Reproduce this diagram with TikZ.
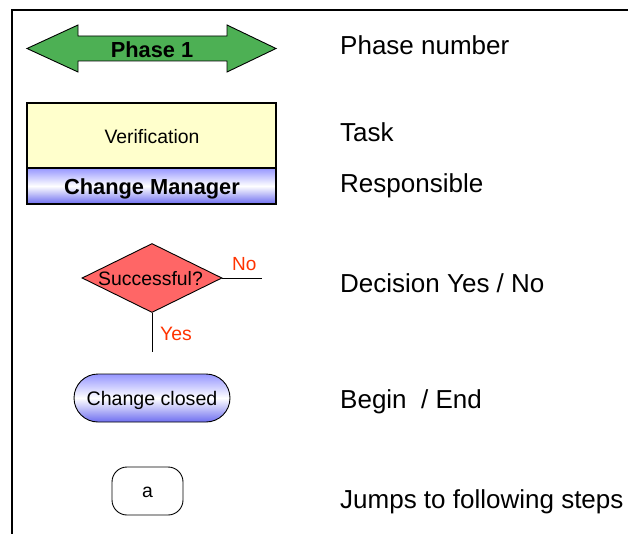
\documentclass[tikz,border=0pt]{standalone}
\usepackage{fontspec}
\setmainfont{Liberation Sans}
\usetikzlibrary{shapes.geometric}
\definecolor{arrowgreen}{RGB}{77,176,84}
\definecolor{taskyellow}{RGB}{255,255,204}
\definecolor{diared}{RGB}{255,102,102}
\definecolor{yesno}{RGB}{255,51,0}
\definecolor{blueedge}{RGB}{150,150,255}
\definecolor{bluedark}{RGB}{110,110,240}
\newcommand{\fsz}[1]{\fontsize{#1}{#1}\selectfont}
\begin{document}
\begin{tikzpicture}[x=1pt,y=-1pt,
  outline/.style={draw=black, line width=1.1pt},
  thinline/.style={draw=black, line width=0.9pt},
  ctexta/.style={font=\fsz{19.4}, text height=17.5pt, text depth=3.6pt},
  ctextb/.style={font=\fsz{21.8}\bfseries, text height=19.6pt, text depth=4pt},
  bluegrad/.style={top color=blueedge, bottom color=bluedark, middle color=white},
  legend/.style={anchor=base west, inner sep=0pt, font=\fsz{26}},
  ]
\useasboundingbox (0,0) rectangle (628,534);
% frame
\draw[line width=2pt] (12,535) -- (12,10) -- (629,10);

% phase arrow
\filldraw[fill=arrowgreen, thinline]
  (27,48.5) -- (78,25) -- (78,36) -- (227,36) -- (227,25) -- (276,48.5)
  -- (227,72) -- (227,61) -- (78,61) -- (78,72) -- cycle;
\node[ctextb, inner sep=0pt] (phase) at (152,49.5) {Phase 1};

% task box
\node[outline, fill=taskyellow, minimum width=249pt, minimum height=65pt, inner sep=0pt] (task) at (151.5,135.5) {};
\node[ctexta, inner sep=0pt] (tasktxt) at (152,137) {Verification};
\node[outline, bluegrad, minimum width=249pt, minimum height=36pt, inner sep=0pt] (resp) at (151.5,186) {};
\node[ctextb, inner sep=0pt] (resptxt) at (152,187) {Change Manager};

% decision
\node[diamond, thinline, fill=diared, aspect=2, inner sep=0pt,
      minimum width=140pt, minimum height=69pt] (dec) at (152,278) {};
\node[ctexta, inner sep=0pt] (dectxt) at (150.5,278.5) {Successful?};
\coordinate (noend) at (262,278);
\coordinate (yesend) at (152,352);
\draw[thinline] (dec.east) -- (noend);
\draw[thinline] (dec.south) -- (yesend);
\node[anchor=base west, inner sep=0pt, text=yesno, font=\fsz{19}] (no) at (232,270) {No};
\node[anchor=base west, inner sep=0pt, text=yesno, font=\fsz{19.4}] (yes) at (160,340) {Yes};

% terminator
\node[thinline, bluegrad, rounded corners=24pt, minimum width=156pt, minimum height=48pt,
      inner sep=0pt, font=\fsz{19.6}, text height=17.6pt, text depth=3.6pt] (term) at (152,398) {Change closed};

% jump
\node[thinline, rounded corners=15pt, minimum width=71pt, minimum height=48pt,
      inner sep=0pt, ctexta] (jump) at (147.5,491) {a};

% legend
\node[legend] (l1) at (340,55) {Phase number};
\node[legend] (l2) at (340,141.7) {Task};
\node[legend] (l3) at (340,193) {Responsible};
\node[legend] (l4) at (340,292) {Decision Yes / No};
\node[legend] (l5) at (340,408) {Begin\ \ / End};
\node[legend] (l6) at (340,508) {Jumps to following steps};
\end{tikzpicture}
\end{document}
